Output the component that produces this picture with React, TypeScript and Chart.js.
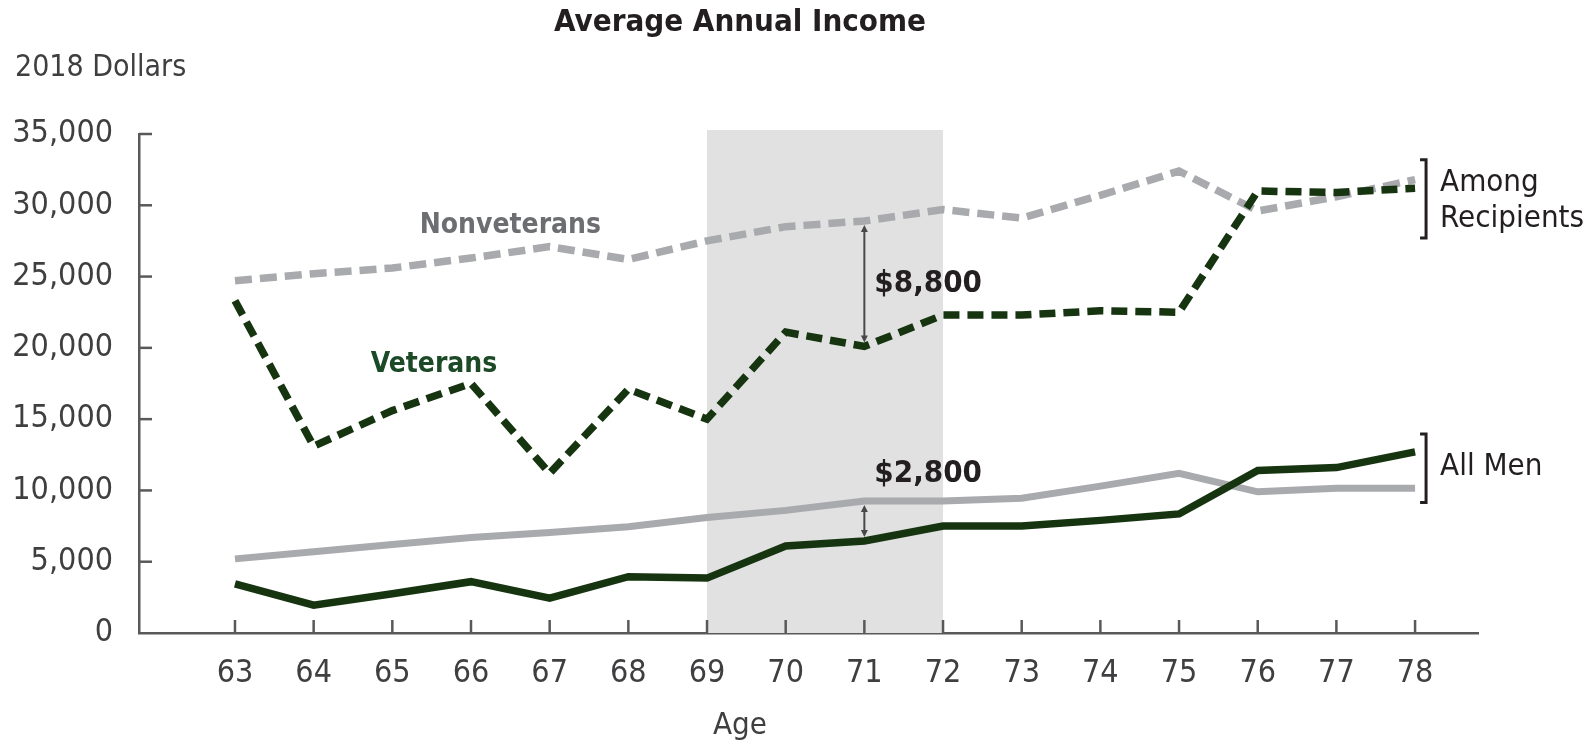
import React, { useEffect, useRef } from "react";
import { Chart, registerables } from "chart.js";

Chart.register(...registerables);

const ages = [63, 64, 65, 66, 67, 68, 69, 70, 71, 72, 73, 74, 75, 76, 77, 78];
const nonvetRecipients = [24700, 25200, 25600, 26300, 27100, 26200, 27500, 28500, 28900, 29700, 29100, 30700, 32400, 29600, 30600, 31800];
const vetRecipients = [23300, 13100, 15600, 17500, 11200, 17100, 15000, 21100, 20100, 22300, 22300, 22600, 22500, 31000, 30900, 31200];
const nonvetAll = [5200, 5700, 6200, 6700, 7050, 7450, 8100, 8600, 9250, 9250, 9450, 10300, 11200, 9900, 10150, 10150];
const vetAll = [3450, 1950, 2750, 3600, 2450, 3950, 3850, 6100, 6450, 7500, 7500, 7900, 8350, 11400, 11600, 12700];
const yTicks = [0, 5000, 10000, 15000, 20000, 25000, 30000, 35000];
const shadeFrom = 69;
const shadeTo = 72;
const gapAge = 71;
const gapRecipientsLabel = "$8,800";
const gapAllLabel = "$2,800";

const FONT = '"DejaVu Sans Condensed", sans-serif';
const DARK_GREEN = "#15340f";
const GRAY = "#a9aaad";
const AXIS = "#58595b";
const TEXT = "#231f20";
const TICK_TEXT = "#3f3f41";

function arrowHead(ctx: CanvasRenderingContext2D, x: number, y: number, dir: number) {
  ctx.beginPath();
  ctx.moveTo(x, y);
  ctx.lineTo(x - 3.5, y - dir * 7);
  ctx.lineTo(x + 3.5, y - dir * 7);
  ctx.closePath();
  ctx.fill();
}

const decorPlugin = {
  id: "decor",
  beforeDatasetsDraw(chart: any) {
    const { ctx, chartArea, scales } = chart;
    const xs = scales.x;
    const ys = scales.y;
    ctx.save();
    const x0 = xs.getPixelForValue(shadeFrom);
    const x1 = xs.getPixelForValue(shadeTo);
    ctx.fillStyle = "#e1e1e1";
    ctx.fillRect(x0, chartArea.top - 4, x1 - x0, chartArea.bottom - chartArea.top + 4);
    ctx.strokeStyle = AXIS;
    ctx.lineWidth = 2.5;
    yTicks.forEach((v) => {
      if (v === 0) return;
      const y = ys.getPixelForValue(v);
      ctx.beginPath();
      ctx.moveTo(chartArea.left, y);
      ctx.lineTo(chartArea.left + 13, y);
      ctx.stroke();
    });
    ages.forEach((a) => {
      const x = xs.getPixelForValue(a);
      ctx.beginPath();
      ctx.moveTo(x, chartArea.bottom);
      ctx.lineTo(x, chartArea.bottom - 13);
      ctx.stroke();
    });
    ctx.restore();
  },
  afterDatasetsDraw(chart: any) {
    const { ctx, scales } = chart;
    const xs = scales.x;
    const ys = scales.y;
    const idx = ages.indexOf(gapAge);
    const ax = xs.getPixelForValue(gapAge);
    ctx.save();
    ctx.strokeStyle = "#48484a";
    ctx.fillStyle = "#48484a";
    ctx.lineWidth = 2;
    const rTop = ys.getPixelForValue(nonvetRecipients[idx]) + 4;
    const rBot = ys.getPixelForValue(vetRecipients[idx]) - 4;
    ctx.beginPath();
    ctx.moveTo(ax, rTop + 4);
    ctx.lineTo(ax, rBot - 4);
    ctx.stroke();
    arrowHead(ctx, ax, rTop, -1);
    arrowHead(ctx, ax, rBot, 1);
    const aTop = ys.getPixelForValue(nonvetAll[idx]) + 4;
    const aBot = ys.getPixelForValue(vetAll[idx]) - 4;
    ctx.beginPath();
    ctx.moveTo(ax, aTop + 4);
    ctx.lineTo(ax, aBot - 4);
    ctx.stroke();
    arrowHead(ctx, ax, aTop, -1);
    arrowHead(ctx, ax, aBot, 1);

    ctx.textBaseline = "middle";
    ctx.textAlign = "left";
    ctx.fillStyle = TEXT;
    ctx.font = `bold 31px ${FONT}`;
    ctx.fillText(gapRecipientsLabel, ax + 10, (rTop + rBot) / 2);
    ctx.fillText(gapAllLabel, ax + 10, aTop - 31);

    ctx.textAlign = "center";
    ctx.font = `bold 28px ${FONT}`;
    ctx.fillStyle = "#6d6e71";
    ctx.fillText("Nonveterans", xs.getPixelForValue(66.5), ys.getPixelForValue(28600));
    ctx.fillStyle = "#1c4a26";
    ctx.fillText("Veterans", xs.getPixelForValue(65.53), ys.getPixelForValue(18800));

    const lastX = xs.getPixelForValue(ages[ages.length - 1]);
    const bx = lastX + 11;
    ctx.strokeStyle = TEXT;
    ctx.lineWidth = 3;
    const bracket = (vTop: number, vBot: number) => {
      const t = ys.getPixelForValue(vTop);
      const b = ys.getPixelForValue(vBot);
      ctx.beginPath();
      ctx.moveTo(bx - 6, t);
      ctx.lineTo(bx, t);
      ctx.lineTo(bx, b);
      ctx.lineTo(bx - 6, b);
      ctx.stroke();
    };
    bracket(33200, 27700);
    bracket(13950, 9150);
    ctx.textAlign = "left";
    ctx.fillStyle = TEXT;
    ctx.font = `31px ${FONT}`;
    ctx.fillText("Among", bx + 14, ys.getPixelForValue(31600));
    ctx.fillText("Recipients", bx + 14, ys.getPixelForValue(29050));
    ctx.fillText("All Men", bx + 14, ys.getPixelForValue(11650));
    ctx.restore();
  },
  afterDraw(chart: any) {
    const { ctx } = chart;
    ctx.save();
    ctx.textBaseline = "middle";
    ctx.textAlign = "center";
    ctx.fillStyle = TEXT;
    ctx.font = `bold 31px ${FONT}`;
    ctx.fillText("Average Annual Income", 740, 23);
    ctx.fillStyle = TICK_TEXT;
    ctx.font = `31px ${FONT}`;
    ctx.fillText("Age", 740, 726);
    ctx.textAlign = "left";
    ctx.font = `30px ${FONT}`;
    ctx.fillText("2018 Dollars", 15, 68);
    ctx.restore();
  },
};

export default function App() {
  const ref = useRef<HTMLCanvasElement | null>(null);
  useEffect(() => {
    document.body.style.margin = "0";
    const canvas = ref.current;
    if (!canvas) return;
    const pts = (arr: number[]) => ages.map((a, i) => ({ x: a, y: arr[i] }));
    const chart = new Chart(canvas, {
      type: "line",
      data: {
        datasets: [
          { label: "Veterans (all men)", data: pts(vetAll), borderColor: DARK_GREEN, borderWidth: 7.5, order: 0 },
          { label: "Nonveterans (all men)", data: pts(nonvetAll), borderColor: GRAY, borderWidth: 7, order: 1 },
          {
            label: "Veterans (recipients)",
            data: pts(vetRecipients),
            borderColor: DARK_GREEN,
            borderWidth: 7.5,
            borderDash: [16, 8],
            order: 2,
          },
          {
            label: "Nonveterans (recipients)",
            data: pts(nonvetRecipients),
            borderColor: GRAY,
            borderWidth: 7.5,
            borderDash: [17, 8],
            order: 3,
          },
        ],
      },
      options: {
        responsive: false,
        animation: false,
        layout: { padding: { top: 134, right: 112, left: 0, bottom: 0 } },
        elements: {
          point: { radius: 0, hoverRadius: 0 },
          line: { tension: 0, fill: false, borderCapStyle: "butt", borderJoinStyle: "miter" },
        },
        plugins: {
          legend: { display: false },
          tooltip: { enabled: false },
          title: { display: false },
        },
        scales: {
          x: {
            type: "linear",
            min: 61.78,
            max: 78.8,
            afterBuildTicks: (scale: any) => {
              scale.ticks = ages.map((a) => ({ value: a }));
            },
            afterFit: (scale: any) => {
              scale.height = 114;
            },
            grid: { display: false, drawTicks: false },
            border: { display: true, color: AXIS, width: 2.5 },
            ticks: {
              padding: 21,
              color: TICK_TEXT,
              font: { family: FONT, size: 32 },
              maxRotation: 0,
              autoSkip: false,
              callback: (v: any) => String(v),
            },
          },
          y: {
            min: 0,
            max: 35000,
            afterBuildTicks: (scale: any) => {
              scale.ticks = yTicks.map((v) => ({ value: v }));
            },
            afterFit: (scale: any) => {
              scale.width = 139;
            },
            grid: { display: false, drawTicks: false },
            border: { display: true, color: AXIS, width: 2.5 },
            ticks: {
              padding: 26,
              color: TICK_TEXT,
              font: { family: FONT, size: 32 },
              callback: (v: any) => Number(v).toLocaleString("en-US"),
            },
          },
        },
      },
      plugins: [decorPlugin],
    } as any);
    return () => chart.destroy();
  }, []);
  return <canvas ref={ref} width={1590} height={747} style={{ display: "block" }} />;
}
